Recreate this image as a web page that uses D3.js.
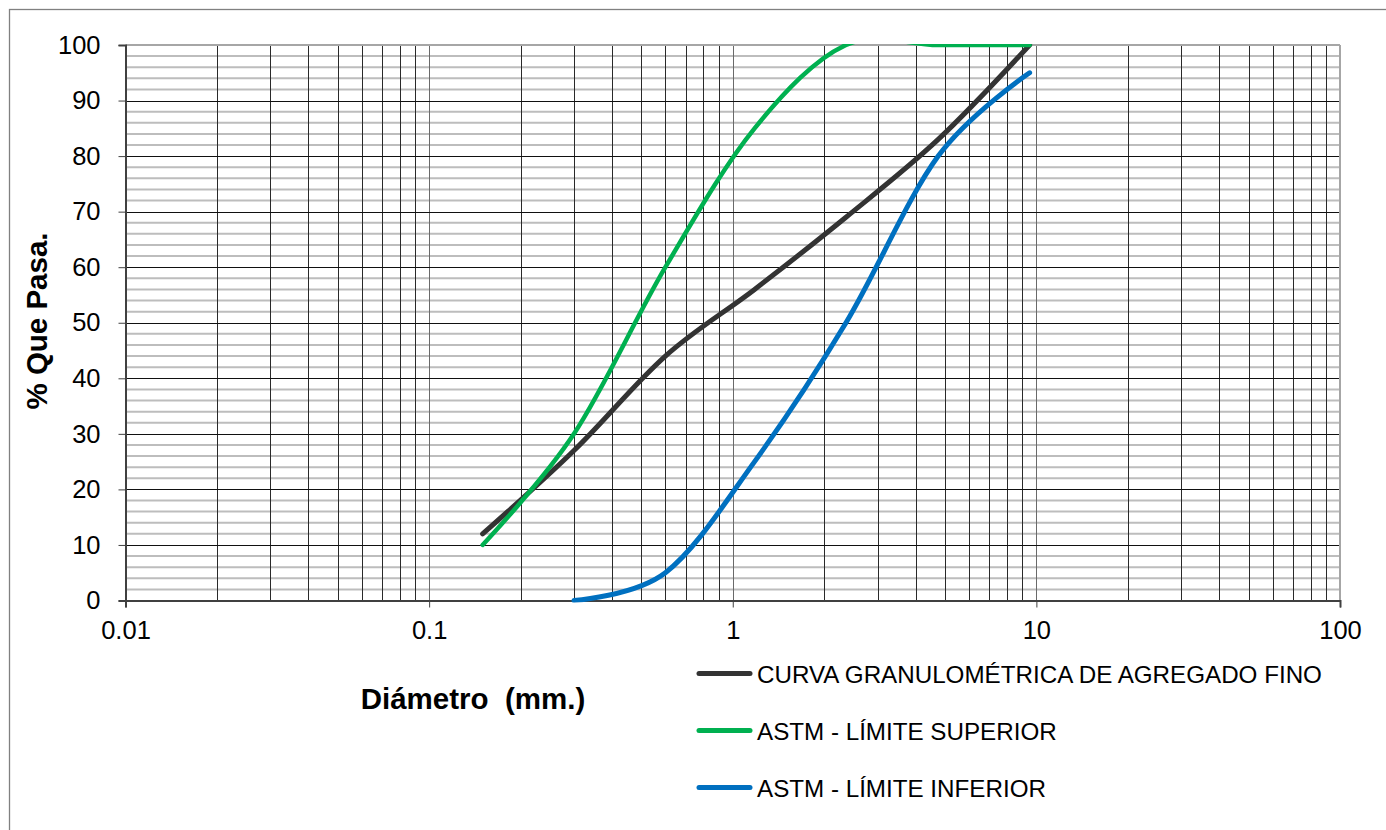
<!DOCTYPE html>
<html>
<head>
<meta charset="utf-8">
<script src="https://cdn.jsdelivr.net/npm/d3@7"></script>
<style>
  html, body { margin: 0; padding: 0; background: #fff; }
  svg { display: block; font-family: 'Liberation Sans', Arial, sans-serif; }
</style>
</head>
<body>
<div id="chart"></div>
<script>
// sieve openings (mm) and % passing
const sieves = [0.15, 0.3, 0.6, 1.18, 2.36, 4.75, 9.5];
const curvaFino = [12, 27, 44, 56, 69, 83, 100];
const limSuperior = [10, 30, 60, 85, 100, 100, 100];
const limInferior = [null, 0, 5, 25, 50, 80, 95];

const xTickValues = [0.01, 0.1, 1, 10, 100];
const xTickLabels = ['0.01', '0.1', '1', '10', '100'];
const yTickValues = [0, 10, 20, 30, 40, 50, 60, 70, 80, 90, 100];

const seriesNames = [
  'CURVA GRANULOMÉTRICA DE AGREGADO FINO',
  'ASTM - LÍMITE SUPERIOR',
  'ASTM - LÍMITE INFERIOR'
];
const seriesColors = ['#333333', '#00b050', '#0070c0'];
const seriesWidths = [5, 4.5, 5];

const W = 1386, H = 830;
const plot = { left: 125.5, right: 1340, top: 45, bottom: 600.5 };

const svg = d3.select('#chart').append('svg')
  .attr('width', W).attr('height', H)
  .attr('viewBox', `0 0 ${W} ${H}`);

svg.append('rect').attr('width', W).attr('height', H).attr('fill', '#fff');
// outer chart frame
svg.append('rect')
  .attr('x', 9.5).attr('y', 9.5).attr('width', W + 20).attr('height', H + 20)
  .attr('fill', 'none').attr('stroke', '#808080').attr('stroke-width', 1.3);

const x = d3.scaleLog().domain([0.01, 100]).range([plot.left, plot.right]);
const y = d3.scaleLinear().domain([0, 100]).range([plot.bottom, plot.top]);

const grid = svg.append('g');

// horizontal minor grid every 2
const minorY = d3.range(2, 100, 2).filter(v => v % 10 !== 0);
grid.selectAll('line.hmin').data(minorY).join('line')
  .attr('class', 'hmin')
  .attr('x1', plot.left).attr('x2', plot.right)
  .attr('y1', d => y(d)).attr('y2', d => y(d))
  .attr('stroke', '#bdbdbd').attr('stroke-width', 2);

// vertical grid: every 1..9 of each decade
const vLines = [];
for (let e = -2; e < 2; e++) {
  for (let k = 1; k <= 9; k++) {
    const v = k * Math.pow(10, e);
    if (v > 0.01) vLines.push(v);
  }
}
grid.selectAll('line.v').data(vLines).join('line')
  .attr('class', 'v')
  .attr('x1', d => Math.round(x(d)) + 0.5).attr('x2', d => Math.round(x(d)) + 0.5)
  .attr('y1', plot.top).attr('y2', plot.bottom)
  .attr('stroke', d => Math.abs(Math.log10(d) % 1) < 1e-9 ? '#6a6a6a' : '#2a2a2a')
  .attr('stroke-width', 1);

// horizontal major grid every 10
grid.selectAll('line.hmaj').data(yTickValues.filter(v => v > 0 && v < 100)).join('line')
  .attr('class', 'hmaj')
  .attr('x1', plot.left).attr('x2', plot.right)
  .attr('y1', d => Math.round(y(d)) + 0.5).attr('y2', d => Math.round(y(d)) + 0.5)
  .attr('stroke', '#111').attr('stroke-width', 1);

// top & right border of plot
svg.append('line').attr('x1', plot.left).attr('x2', plot.right)
  .attr('y1', plot.top).attr('y2', plot.top)
  .attr('stroke', '#a6a6a6').attr('stroke-width', 2);
svg.append('line').attr('x1', plot.right).attr('x2', plot.right)
  .attr('y1', plot.top).attr('y2', plot.bottom)
  .attr('stroke', '#a6a6a6').attr('stroke-width', 2);

// y axis
const yAxis = svg.append('g').attr('transform', `translate(${plot.left},0)`)
  .call(d3.axisLeft(y).tickValues(yTickValues).tickSize(7).tickPadding(18).tickFormat(d3.format('d')));
yAxis.select('.domain').attr('stroke', '#404040').attr('stroke-width', 2);
yAxis.selectAll('.tick line').attr('stroke', '#404040');
yAxis.selectAll('.tick text')
  .attr('font-size', 25.5).attr('fill', '#000')
  .attr('font-family', "'Liberation Sans', Arial, sans-serif");

// x axis
const xAxis = svg.append('g').attr('transform', `translate(0,${plot.bottom})`)
  .call(d3.axisBottom(x).tickValues(xTickValues).tickSize(7).tickPadding(13)
    .tickFormat((d, i) => xTickLabels[i]));
xAxis.select('.domain').attr('stroke', '#404040').attr('stroke-width', 2);
xAxis.selectAll('.tick line').attr('stroke', '#404040');
xAxis.selectAll('.tick text')
  .attr('font-size', 25.5).attr('fill', '#000')
  .attr('font-family', "'Liberation Sans', Arial, sans-serif");

// curves
svg.append('clipPath').attr('id', 'plotClip')
  .append('rect')
  .attr('x', plot.left).attr('y', plot.top - 1)
  .attr('width', plot.right - plot.left).attr('height', plot.bottom - plot.top + 3);

const line = d3.line()
  .x(d => x(d[0])).y(d => y(d[1]))
  .curve(d3.curveCardinal.tension(0));

const allSeries = [curvaFino, limSuperior, limInferior];
const curves = svg.append('g').attr('clip-path', 'url(#plotClip)');
allSeries.forEach((vals, i) => {
  const pts = sieves.map((s, j) => [s, vals[j]]).filter(d => d[1] !== null);
  curves.append('path')
    .attr('d', line(pts))
    .attr('fill', 'none')
    .attr('stroke', seriesColors[i])
    .attr('stroke-width', seriesWidths[i])
    .attr('stroke-linecap', 'round')
    .attr('stroke-linejoin', 'round');
});

// axis titles
svg.append('text')
  .attr('x', 473).attr('y', 709)
  .attr('text-anchor', 'middle')
  .attr('font-size', 29.5).attr('font-weight', 'bold')
  .attr('xml:space', 'preserve')
  .text('Diámetro  (mm.)');

svg.append('text')
  .attr('transform', 'translate(47,321) rotate(-90)')
  .attr('text-anchor', 'middle')
  .attr('font-size', 29.5).attr('font-weight', 'bold')
  .text('% Que Pasa.');

// legend
const legend = svg.append('g');
const legendY = [673.5, 730.5, 787.5];
seriesNames.forEach((name, i) => {
  const g = legend.append('g').attr('transform', `translate(0,${legendY[i]})`);
  g.append('line')
    .attr('x1', 699).attr('x2', 750)
    .attr('stroke', seriesColors[i]).attr('stroke-width', 5)
    .attr('stroke-linecap', 'round');
  g.append('text')
    .attr('x', 757).attr('y', 9)
    .attr('font-size', 24.2).attr('fill', '#000')
    .text(name);
});
</script>
</body>
</html>
